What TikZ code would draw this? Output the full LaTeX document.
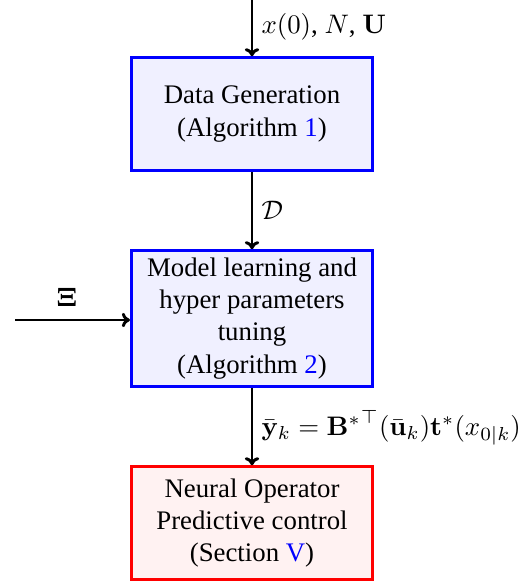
\documentclass[tikz,border=0pt]{standalone}
\usepackage[no-math]{fontspec}
\setmainfont{Liberation Serif}
\usepackage{amsmath,bm}
\usetikzlibrary{arrows.meta}
\tikzset{
  blk/.style={draw=blue, line width=1.1pt, fill=blue!6, align=center, minimum width=90pt, inner sep=2pt},
  redblk/.style={draw=red, line width=1.1pt, fill=red!5, align=center, minimum width=90pt, inner sep=2pt},
  conn/.style={draw=black, line width=1.1pt, -{To[length=3pt, width=5.4pt]}},
  lbl/.style={inner sep=0pt, anchor=west}
}
\begin{document}
\begin{tikzpicture}[x=0.37313pt, y=-0.37313pt]
\useasboundingbox (0,0) rectangle (528,584);
\node[blk, minimum height=42pt] (gen) at (252,114) {Data Generation\\(Algorithm \textcolor{blue}{1})};
\node[blk, minimum height=50.6pt] (learn) at (252,318.5) {Model learning and\\hyper parameters\\tuning\\(Algorithm \textcolor{blue}{2})};
\node[redblk, minimum height=42pt] (npc) at (252,523) {Neural Operator\\Predictive control\\(Section \textcolor{blue}{V})};
\coordinate (top) at (252,0);
\coordinate (left) at (15,320);
\draw[conn] (top) -- (gen.north);
\draw[conn] (gen.south) -- (learn.north);
\draw[conn] (left) -- (learn.west |- left);
\draw[conn] (learn.south) -- (npc.north);
\node[lbl] (linit) at (261,27) {$x(0)$, $N$, $\mathbf{U}$};
\node[lbl] (ld) at (261,210) {$\mathcal{D}$};
\node[inner sep=0pt] (lxi) at (67,297) {$\bm{\Xi}$};
\node[lbl] (lform) at (261,428) {$\bar{\mathbf{y}}_k = {\mathbf{B}^*}^{\top}(\bar{\mathbf{u}}_k)\mathbf{t}^*(x_{0|k})$};
\end{tikzpicture}
\end{document}
